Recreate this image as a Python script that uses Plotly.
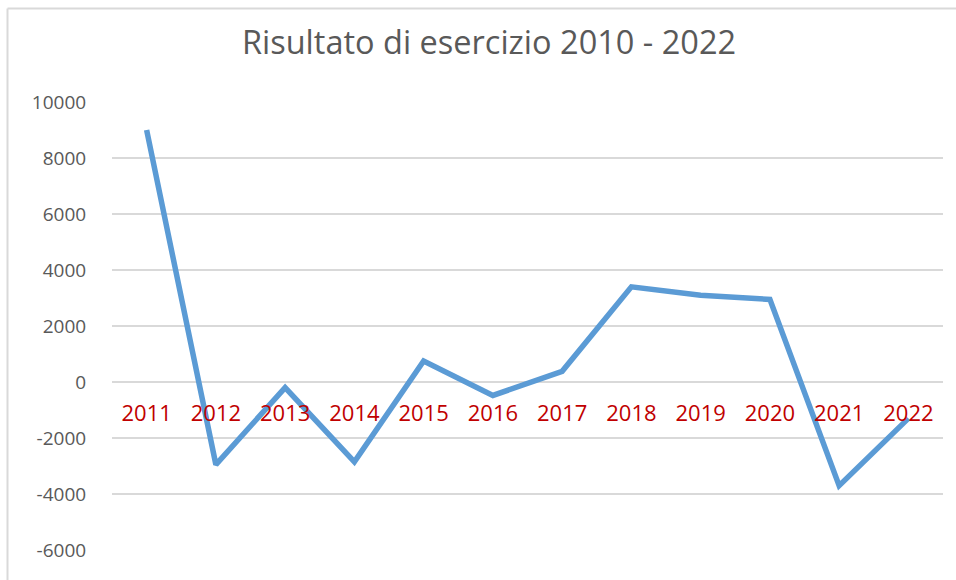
import plotly.graph_objects as go

years = ["2011", "2012", "2013", "2014", "2015", "2016", "2017", "2018", "2019", "2020", "2021", "2022"]
risultato = [9000, -2950, -200, -2850, 750, -480, 380, 3400, 3100, 2950, -3700, -1300]
y_ticks = [-6000, -4000, -2000, 0, 2000, 4000, 6000, 8000, 10000]
title_text = "Risultato di esercizio 2010 - 2022"

W, H = 956, 580
L, R, T, B = 112, 13, 102, 30
plot_h = H - T - B
ymin, ymax = -6000, 10000
zero_pos = (0 - ymin) / (ymax - ymin)

fig = go.Figure()
fig.add_trace(go.Scatter(
    x=years, y=risultato, mode="lines",
    line=dict(color="#5B9BD5", width=5.5, shape="linear"),
    hoverinfo="x+y", showlegend=False,
))

fig.update_layout(
    width=W, height=H,
    margin=dict(l=L, r=R, t=T, b=B, pad=0),
    paper_bgcolor="white", plot_bgcolor="white",
    font=dict(family="Open Sans, Noto Sans, sans-serif", color="#595959"),
    title=dict(text=title_text, x=489 / W, xref="container", xanchor="center",
               y=1 - 43 / H, yref="container", yanchor="middle",
               font=dict(size=32.5, color="#595959")),
    xaxis=dict(type="category", categoryorder="array", categoryarray=years,
               range=[-0.5, len(years) - 0.5],
               anchor="free", position=zero_pos,
               showgrid=False, showline=False, zeroline=False,
               ticks="outside", ticklen=12, tickcolor="rgba(0,0,0,0)",
               tickfont=dict(size=22, color="#C00000")),
    yaxis=dict(range=[ymin, ymax], tickvals=y_ticks, ticktext=[str(v) for v in y_ticks],
               showgrid=True, gridcolor="#D9D9D9", gridwidth=2,
               zeroline=True, zerolinecolor="#D9D9D9", zerolinewidth=2,
               showline=False,
               ticks="outside", ticklen=21, tickcolor="rgba(0,0,0,0)",
               tickfont=dict(size=19, color="#595959")),
)

# chart-area frame (left and top edges visible)
pw = W - L - R
fx0 = (7.5 - L) / pw
fy1 = (H - B - 8.5) / plot_h
fig.add_shape(type="line", xref="paper", yref="paper", x0=fx0, x1=(W + 5 - L) / pw, y0=fy1, y1=fy1,
              line=dict(color="#D9D9D9", width=2), layer="below")
fig.add_shape(type="line", xref="paper", yref="paper", x0=fx0, x1=fx0, y0=(-(B + 5)) / plot_h, y1=fy1,
              line=dict(color="#D9D9D9", width=2), layer="below")

fig.write_html("out.html", config={"displayModeBar": False},
               post_script="document.body.style.margin='0';document.body.style.overflow='hidden';")
